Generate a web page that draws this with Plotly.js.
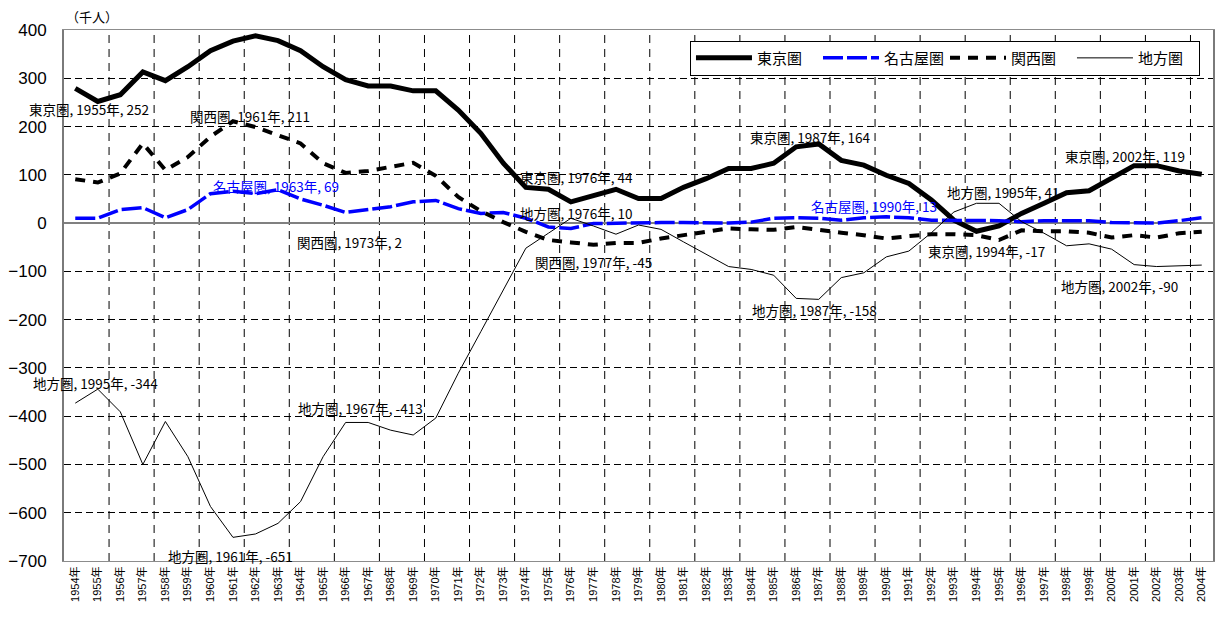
<!DOCTYPE html>
<html>
<head>
<meta charset="utf-8">
<script src="https://cdn.plot.ly/plotly-3.0.1.min.js"></script>
<style>html,body{margin:0;padding:0;background:#fff;}#chart{width:1221px;height:617px;}</style>
</head>
<body>
<div id="chart"></div>
<script>
// ---- Data (千人) ----
const years = ["1954年","1955年","1956年","1957年","1958年","1959年","1960年","1961年","1962年","1963年",
  "1964年","1965年","1966年","1967年","1968年","1969年","1970年","1971年","1972年","1973年",
  "1974年","1975年","1976年","1977年","1978年","1979年","1980年","1981年","1982年","1983年",
  "1984年","1985年","1986年","1987年","1988年","1989年","1990年","1991年","1992年","1993年",
  "1994年","1995年","1996年","1997年","1998年","1999年","2000年","2001年","2002年","2003年","2004年"];

const tokyo = [279,252,266,313,295,324,357,377,388,378,
  357,324,297,284,284,274,274,234,186,124,
  74,70,44,58,70,51,51,74,92,113,
  113,124,158,164,130,120,99,82,48,6,
  -17,-6,20,41,63,67,92,119,119,108,101];

const nagoya = [10,10,28,32,11,28,61,66,61,69,
  50,37,22,28,34,44,47,30,20,22,
  10,-8,-11,-1,0,0,1,1,1,0,
  2,10,11,10,6,11,13,11,6,6,
  6,5,3,5,5,5,1,0,0,5,11];

const kansai = [91,84,103,165,110,137,179,211,199,182,
  165,124,104,108,117,125,98,54,25,2,
  -18,-35,-40,-45,-41,-41,-32,-25,-18,-11,
  -13,-14,-8,-15,-20,-25,-32,-27,-23,-23,
  -25,-35,-15,-17,-17,-20,-30,-25,-30,-21,-18];

const chiho = [-373,-344,-391,-500,-411,-484,-587,-651,-644,-622,
  -577,-484,-413,-413,-429,-439,-404,-311,-225,-138,
  -52,-21,10,-6,-23,-4,-13,-39,-64,-90,
  -96,-108,-156,-158,-113,-103,-70,-58,-20,23,
  41,41,3,-21,-47,-43,-54,-86,-90,-88,-87];

const seriesNames = ["東京圏","名古屋圏","関西圏","地方圏"];

// data labels shown on the chart
const labelTexts = [
  "東京圏, 1962年, 388","東京圏, 1955年, 252","関西圏, 1961年, 211","名古屋圏, 1963年, 69",
  "関西圏, 1973年, 2","地方圏, 1995年, -344","地方圏, 1967年, -413","地方圏, 1961年, -651",
  "東京圏, 1976年, 44","地方圏, 1976年, 10","関西圏, 1977年, -45","東京圏, 1987年, 164",
  "名古屋圏, 1990年, 13","地方圏, 1995年, 41","東京圏, 2002年, 119","東京圏, 1994年, -17",
  "地方圏, 1987年, -158","地方圏, 2002年, -90"
];
const unitLabel = "（千人）";

// ---- Layout (positions / styles) ----
const labelPos = [
  [7.88,412],[0.62,236],[7.75,222],[8.91,77],
  [12.15,-39],[0.92,-331],[12.68,-383],[6.87,-689],
  [22.26,95],[22.26,21],[23.02,-81],[32.65,178],
  [35.45,35],[41.18,64],[46.59,139],[40.46,-58],
  [32.83,-180],[46.37,-130]
];
const blueLabels = [3,12];

const xIdx = years.map((_, i) => i);

const traces = [
  {x: xIdx, y: tokyo, name: seriesNames[0], mode: "lines", line: {color: "#000", width: 5}},
  {x: xIdx, y: nagoya, name: seriesNames[1], mode: "lines", line: {color: "#0000ff", width: 3.5, dash: "20px,4px"}},
  {x: xIdx, y: kansai, name: seriesNames[2], mode: "lines", line: {color: "#000", width: 4, dash: "10px,8px"}},
  {x: xIdx, y: chiho, name: seriesNames[3], mode: "lines", line: {color: "#000", width: 1}}
];

const shapes = [];
for (let k = 1.5; k < years.length - 1; k += 2) {
  shapes.push({type: "line", xref: "x", yref: "paper", x0: k, x1: k, y0: 0, y1: 1,
    line: {color: "#000", width: 1, dash: "8px,6px"}, layer: "below"});
}

const annotations = labelTexts.map((t, i) => ({
  text: t, x: labelPos[i][0], y: labelPos[i][1], xref: "x", yref: "y",
  showarrow: false, xanchor: "center", yanchor: "middle",
  font: {family: "Noto Sans CJK JP, sans-serif", size: 13.5, color: blueLabels.includes(i) ? "#0000ff" : "#000"}
}));
annotations.push({text: unitLabel, xref: "paper", yref: "paper", x: 0.0244, y: 1.0245,
  showarrow: false, xanchor: "center", yanchor: "middle",
  font: {family: "Noto Sans CJK JP, sans-serif", size: 13, color: "#000"}});

const layout = {
  width: 1221, height: 617,
  margin: {l: 64, r: 8, t: 30, b: 56, pad: 0, autoexpand: false},
  paper_bgcolor: "#fff", plot_bgcolor: "#fff",
  showlegend: true,
  legend: {orientation: "h", x: 0.5448, xanchor: "left", y: 0.98, yanchor: "top",
    bgcolor: "#fff", bordercolor: "#000", borderwidth: 1,
    font: {family: "Noto Sans CJK JP, sans-serif", size: 15, color: "#000"},
    itemwidth: 56, entrywidth: 56, entrywidthmode: "pixels", traceorder: "normal"},
  xaxis: {
    range: [-0.5, years.length - 0.5], tickmode: "array", tickvals: xIdx, ticktext: years,
    tickangle: -90, showgrid: false, zeroline: false, ticks: "",
    tickfont: {family: "Liberation Sans, Noto Sans CJK JP, sans-serif", size: 11, color: "#000"},
    showline: true, mirror: true, linecolor: "#8c8c8c", linewidth: 1
  },
  yaxis: {
    range: [-700, 400], dtick: 100, tick0: 0, showgrid: true, gridcolor: "#000", gridwidth: 1,
    griddash: "7px,4px", zeroline: true, zerolinecolor: "#808080", zerolinewidth: 1.5,
    ticks: "", ticklabelstandoff: 12,
    tickfont: {family: "Liberation Sans, Arial, sans-serif", size: 17, color: "#000"},
    showline: true, mirror: true, linecolor: "#7a7a7a", linewidth: 2
  },
  shapes: shapes,
  annotations: annotations
};

Plotly.newPlot("chart", traces, layout, {displayModeBar: false, staticPlot: true});
</script>
</body>
</html>
